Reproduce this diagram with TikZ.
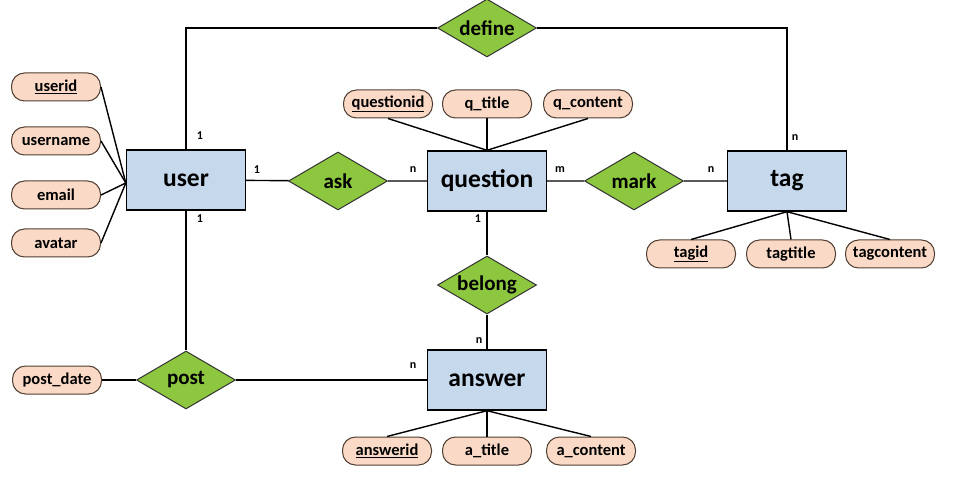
\documentclass[tikz,border=0pt]{standalone}
\usepackage{fontspec}
\setmainfont{Carlito}
\usepackage{tikz}
\usetikzlibrary{shapes.geometric,positioning,calc}
\usepackage{xcolor}
\definecolor{entblue}{RGB}{197,216,236}
\definecolor{relgreen}{RGB}{141,198,63}
\definecolor{attrpeach}{RGB}{250,218,198}
\definecolor{attrline}{RGB}{80,62,50}

\begin{document}
\begin{tikzpicture}[
  x=1pt, y=-1pt,
  entity/.style={draw, line width=1.4pt, fill=entblue, minimum width=119pt, minimum height=60pt, inner sep=0pt, font=\fontsize{25.5}{27}\selectfont\bfseries},
  relation/.style={diamond, draw=black!80, line width=1pt, fill=relgreen, aspect=1.7, minimum width=99pt, minimum height=58pt, inner sep=0pt, font=\fontsize{21}{23}\selectfont\bfseries},
  attr/.style={draw=attrline, line width=1pt, fill=attrpeach, rounded corners=13pt, minimum width=89pt, minimum height=28pt, inner sep=1pt, font=\fontsize{16.5}{18}\selectfont\bfseries},
  card/.style={inner sep=0pt, font=\fontsize{12}{14}\selectfont\bfseries},
  link/.style={line width=1.4pt}
]
\useasboundingbox (0,0) rectangle (953,478);

% entities
\node[entity] (user) at (186,180) {user};
\node[entity] (question) at (487,181) {question};
\node[entity] (tag) at (787,181) {tag};
\node[entity] (answer) at (487,380) {answer};

% relations
\node[relation] (define) at (487,28) {define};
\node[relation] (ask) at (338,181) {ask};
\node[relation] (mark) at (634,181) {mark};
\node[relation] (belong) at (487,285) {belong};
\node[relation] (post) at (186,380) {post};

% attributes
\node[attr] (userid) at (56,87) {\underline{userid}};
\node[attr] (username) at (56,141) {username};
\node[attr] (email) at (56,195) {email};
\node[attr] (avatar) at (56,243) {avatar};
\node[attr] (postdate) at (57,380) {post\_date};
\node[attr] (questionid) at (388,104) {\underline{questionid}};
\node[attr] (qtitle) at (487,104) {q\_title};
\node[attr] (qcontent) at (588,104) {q\_content};
\node[attr] (tagid) at (691,254) {\underline{tagid}};
\node[attr] (tagtitle) at (791,254) {tagtitle};
\node[attr] (tagcontent) at (890,254) {tagcontent};
\node[attr] (answerid) at (387,451) {\underline{answerid}};
\node[attr] (atitle) at (487,451) {a\_title};
\node[attr] (acontent) at (591,451) {a\_content};

% attribute links
\foreach \a in {userid,username,email,avatar}
  \draw[link] (\a.east) -- ($(user.west)+(0,3)$);
\foreach \a in {questionid,qtitle,qcontent}
  \draw[link] (\a.south) -- (question.north);
\foreach \a in {tagid,tagtitle,tagcontent}
  \draw[link] (\a.north) -- (tag.south);
\foreach \a in {answerid,atitle,acontent}
  \draw[link] (\a.north) -- (answer.south);
\draw[link] (postdate) -- (post);

% relation links
\draw[link] (user.north) |- (define.west);
\draw[link] (define.east) -| (tag.north);
\draw[link] (user) -- (ask) -- (question) -- (mark) -- (tag);
\draw[link] (question) -- (belong) -- (answer);
\draw[link] (user) -- (post) -- (answer);

% cardinalities
\node[card] (c1) at (200,136) {1};
\node[card] (c2) at (257,170) {1};
\node[card] (c3) at (200,219) {1};
\node[card] (c4) at (413,170) {n};
\node[card] (c5) at (560,170) {m};
\node[card] (c6) at (478,219) {1};
\node[card] (c7) at (711,170) {n};
\node[card] (c8) at (795,138) {n};
\node[card] (c9) at (479,341) {n};
\node[card] (c10) at (413,366) {n};
\end{tikzpicture}
\end{document}
